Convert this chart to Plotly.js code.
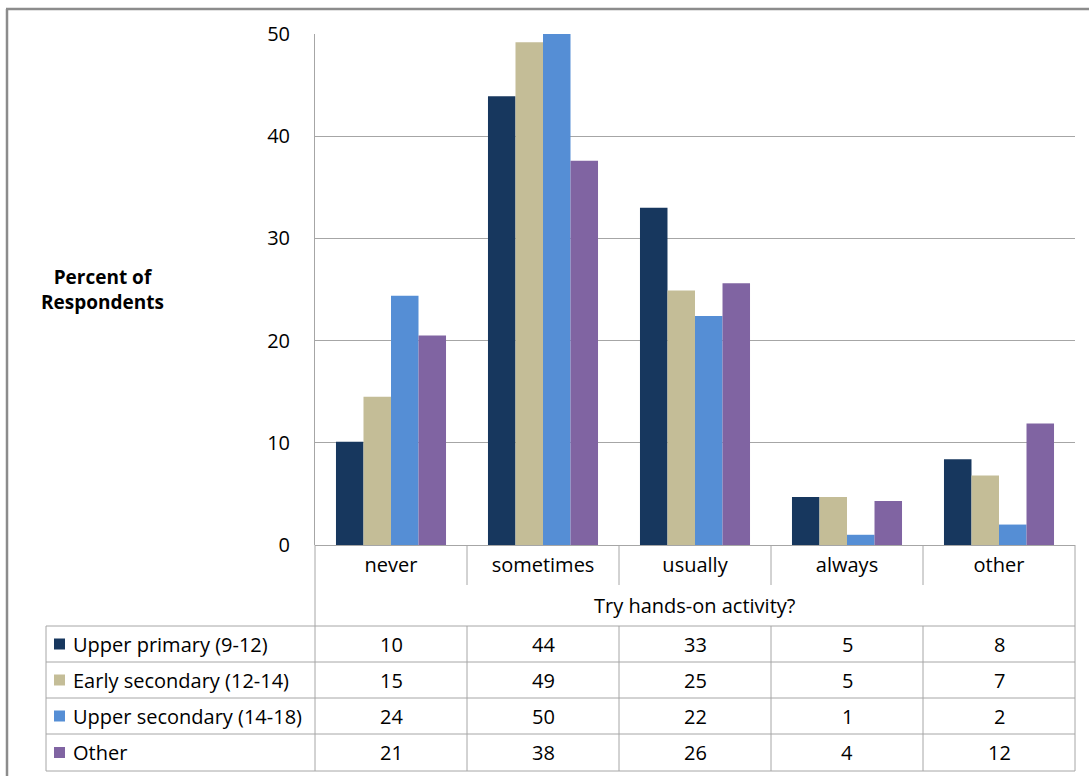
<!DOCTYPE html>
<html>
<head>
<meta charset="utf-8">
<script src="https://cdn.plot.ly/plotly-3.0.1.min.js"></script>
<style>
html,body{margin:0;padding:0;background:#fff;}
#chart{width:1089px;height:776px;}
</style>
</head>
<body>
<div id="chart"></div>
<script>
// ---- data ----
const categories = ['never', 'sometimes', 'usually', 'always', 'other'];
const seriesNames = ['Upper primary (9-12)', 'Early secondary (12-14)', 'Upper secondary (14-18)', 'Other'];
const upperPrimary   = [10.1, 43.9, 33.0, 4.7, 8.4];
const earlySecondary = [14.5, 49.2, 24.9, 4.7, 6.8];
const upperSecondary = [24.4, 50.0, 22.4, 1.0, 2.0];
const otherGroup     = [20.5, 37.6, 25.6, 4.3, 11.9];
const yTickValues = [0, 10, 20, 30, 40, 50];
const xTitleText = 'Try hands-on activity?';
const yTitleText = 'Percent of<br>Respondents';

// ---- styles ----
const colors = ['#17375E', '#C4BD97', '#558ED5', '#8064A2'];
const seriesValues = [upperPrimary, earlySecondary, upperSecondary, otherGroup];
const W = 1089, H = 776;
const FONT = 'Open Sans, sans-serif';
const FS = 20;
const px = v => v / W;
const py = v => 1 - v / H;

const plotL = 315, plotR = 1075, plotT = 34, plotB = 545;
const catRowBottom = 585;
const rowLines = [626, 662, 698, 734, 771];
const tableLeft = 46;
const gridC = '#a6a6a6';

const traces = seriesNames.map((name, i) => ({
  type: 'bar',
  name: name,
  x: categories,
  y: seriesValues[i],
  marker: {color: colors[i], line: {width: 0}},
  hoverinfo: 'x+y+name'
}));

const shapes = [];
function line(x0, y0, x1, y1, color, width) {
  shapes.push({type: 'line', xref: 'paper', yref: 'paper',
    x0: px(x0), y0: py(y0), x1: px(x1), y1: py(y1),
    line: {color: color || gridC, width: width || 1}});
}
// outer frame
line(6, 9, 1089, 9, '#8c8c8c', 2.5);
line(7, 9, 7, 776, '#8c8c8c', 2.5);
// table lines
const colW = (plotR - plotL) / categories.length;
line(plotL, plotB, plotL, rowLines[4]);
line(plotR, plotB, plotR, rowLines[4]);
for (let k = 1; k < categories.length; k++) {
  const xx = plotL + k * colW;
  line(xx, plotB, xx, catRowBottom);
  line(xx, rowLines[0], xx, rowLines[4]);
}
rowLines.forEach(yy => line(tableLeft, yy, plotR, yy));
line(tableLeft, rowLines[0], tableLeft, rowLines[4]);

const annotations = [];
// y-axis title
annotations.push({xref: 'paper', yref: 'paper', x: px(102), y: py(289), xanchor: 'center', yanchor: 'middle',
  text: yTitleText, showarrow: false, align: 'center',
  font: {family: FONT, size: 19, color: '#000', weight: 'bold'}});
// x-axis title
annotations.push({xref: 'paper', yref: 'paper', x: px((plotL + plotR) / 2), y: py(605), xanchor: 'center', yanchor: 'middle',
  text: xTitleText, showarrow: false, font: {family: FONT, size: FS, color: '#000'}});
// table rows
seriesNames.forEach((name, i) => {
  const cy = (rowLines[i] + rowLines[i + 1]) / 2;
  shapes.push({type: 'rect', xref: 'paper', yref: 'paper',
    x0: px(54), x1: px(65), y0: py(cy - 5.5), y1: py(cy + 5.5),
    fillcolor: colors[i], line: {width: 0}});
  annotations.push({xref: 'paper', yref: 'paper', x: px(71), y: py(cy), xanchor: 'left', yanchor: 'middle',
    text: name, showarrow: false, font: {family: FONT, size: FS, color: '#000'}});
  seriesValues[i].forEach((v, j) => {
    annotations.push({xref: 'x', yref: 'paper', x: categories[j], y: py(cy), xanchor: 'center', yanchor: 'middle',
      text: String(Math.round(v)), showarrow: false, font: {family: FONT, size: FS, color: '#000'}});
  });
});

const layout = {
  width: W, height: H,
  margin: {l: 0, r: 0, t: 0, b: 0},
  paper_bgcolor: '#fff', plot_bgcolor: '#fff',
  showlegend: false,
  barmode: 'group',
  bargap: 0.276,
  bargroupgap: 0,
  xaxis: {
    domain: [px(plotL), px(plotR)],
    type: 'category',
    categoryorder: 'array', categoryarray: categories,
    showgrid: false, zeroline: false, showline: false,
    ticks: 'outside', ticklen: 2, tickcolor: 'rgba(0,0,0,0)',
    tickfont: {family: FONT, size: FS, color: '#000'},
    automargin: false, fixedrange: true
  },
  yaxis: {
    domain: [py(plotB), py(plotT)],
    range: [0, 50],
    tickvals: yTickValues,
    showgrid: true, gridcolor: gridC, gridwidth: 1,
    zeroline: true, zerolinecolor: gridC, zerolinewidth: 1,
    showline: true, linecolor: gridC, linewidth: 1,
    ticks: 'outside', ticklen: 20, tickcolor: 'rgba(0,0,0,0)',
    tickfont: {family: FONT, size: FS, color: '#000'},
    automargin: false, fixedrange: true
  },
  shapes: shapes,
  annotations: annotations
};

Plotly.newPlot('chart', traces, layout, {displayModeBar: false, staticPlot: true});
</script>
</body>
</html>
